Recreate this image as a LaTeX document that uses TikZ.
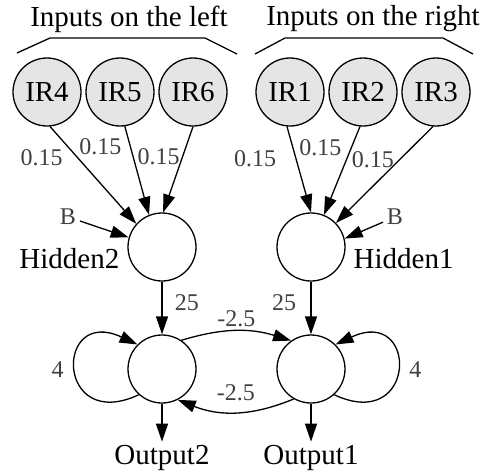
\documentclass[tikz,border=0pt]{standalone}
\usepackage{fontspec}
\setmainfont{Liberation Serif}
\usetikzlibrary{arrows.meta,automata,positioning}

\begin{document}
\begin{tikzpicture}[->,>={Triangle[length=18pt,width=12pt]},x=1pt,y=1pt,auto,node distance=73pt,
                        line width=1.3pt, every node/.style={font=\fontsize{29}{34}\selectfont},
                        inputnode/.style={state, fill=black!10},
                        weightlabel/.style={text=black!75, font=\fontsize{24}{28}\selectfont}]
      \tikzstyle{every state}=[circle,fill=white,draw=black,text=black,minimum size=68pt,inner sep=0pt]
      \useasboundingbox (0,0) rectangle (483,-472);

      % inputs
      \node[inputnode] (IR4) at (47,-92)        {IR4};
      \node[inputnode] (IR5) [right of=IR4]     {IR5};
      \node[inputnode] (IR6) [right of=IR5]     {IR6};
      \node[inputnode] (IR1) at (290,-92)       {IR1};
      \node[inputnode] (IR2) [right of=IR1]     {IR2};
      \node[inputnode] (IR3) [right of=IR2]     {IR3};
      \node (tL) at (129,-19) {Inputs on the left};
      \node (tR) at (373,-19) {Inputs on the right};
      \draw[-] (17,-53) -- (50,-38) -- (205,-38) -- (237,-54);
      \draw[-] (255,-54) -- (285,-38) -- (443,-38) -- (473,-54);

      % hidden and output layer
      \node[state] (H2) at (162,-247)                             {};
      \node[state] (H1) [right of=H2, node distance=149pt]        {};
      \node[state] (O2) [below of=H2, node distance=122pt]        {};
      \node[state] (O1) [below of=H1, node distance=122pt]        {};
      \node (h2lab) [left=4pt of H2, yshift=-12pt]  {Hidden2};
      \node (h1lab) [right=4pt of H1, yshift=-12pt] {Hidden1};
      \node (out2) [below=38pt of O2] {Output2};
      \node (out1) [below=38pt of O1] {Output1};
      \node[weightlabel] (bL) at (68,-217)  {B};
      \node[weightlabel] (bR) at (395,-217) {B};

      \path (IR4.-85) edge node[weightlabel, pos=.32, left=11pt] {0.15} (H2.138)
            (IR5.-82) edge node[weightlabel, pos=.23, left=5pt]  {0.15} (H2.112)
            (IR6.-90) edge node[weightlabel, pos=.35, left=-1pt] {0.15} (H2.88)
            (IR1.-95) edge node[weightlabel, pos=.38, left=16pt] {0.15} (H1.90)
            (IR2.-95) edge node[weightlabel, pos=.24, left=6pt]  {0.15} (H1.68)
            (IR3.-95) edge node[weightlabel, pos=.34, left=2pt]  {0.15} (H1.44)
            (bL) edge (H2.164)
            (bR) edge (H1.14)
            (H2) edge node[weightlabel, pos=.4, right=9pt] {25} (O2)
            (H1) edge node[weightlabel, pos=.4, left=11pt] {25} (O1)
            (O2.56)  edge [bend left=17] node[weightlabel, above] {-2.5} (O1.125)
            (O1.240) edge [bend left=22] node[weightlabel, above=7pt] {-2.5} (O2.297)
            (O2.228) edge [out=205, in=155, distance=92pt] node[weightlabel, left=8pt] {4} (O2.135)
            (O1.-48) edge [out=-25, in=25, distance=92pt] node[weightlabel, right=8pt] {4} (O1.45)
            (O2) edge (out2)
            (O1) edge (out1);
\end{tikzpicture}
\end{document}
